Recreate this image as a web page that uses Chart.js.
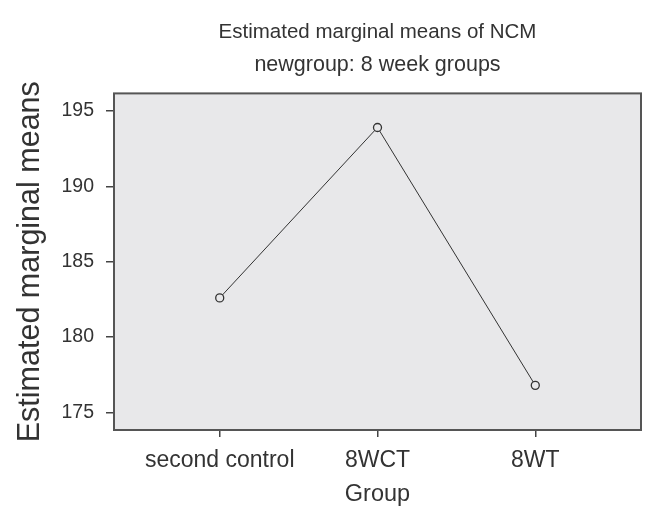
<!DOCTYPE html>
<html>
<head>
<meta charset="utf-8">
<script src="https://cdn.jsdelivr.net/npm/chart.js@4/dist/chart.umd.min.js"></script>
<style>
  html, body { margin: 0; padding: 0; background: #ffffff; }
  #wrap { width: 647px; height: 510px; position: relative; }
</style>
</head>
<body>
<div id="wrap"><canvas id="c" width="647" height="510"></canvas></div>
<script>
const titleText = "Estimated marginal means of NCM";
const subtitleText = "newgroup: 8 week groups";
const xAxisTitle = "Group";
const yAxisTitle = "Estimated marginal means";
const categories = ["second control", "8WCT", "8WT"];
const meanValues = [182.6, 193.9, 176.8];
const yTicks = [175, 180, 185, 190, 195];

const FONT = "'Liberation Sans', Arial, sans-serif";
const TEXT = "#333333";

const plotBg = {
  id: "plotBg",
  beforeDraw(chart) {
    const {ctx, chartArea: a} = chart;
    ctx.save();
    ctx.fillStyle = "#e8e8ea";
    ctx.fillRect(a.left, a.top, a.right - a.left, a.bottom - a.top);
    ctx.restore();
  },
  afterDatasetsDraw(chart) {
    const {ctx, chartArea: a} = chart;
    ctx.save();
    ctx.strokeStyle = "#555555";
    ctx.lineWidth = 2;
    ctx.strokeRect(a.left, a.top, a.right - a.left, a.bottom - a.top);
    ctx.restore();
  }
};

new Chart(document.getElementById("c"), {
  type: "line",
  data: {
    datasets: [{
      data: meanValues.map((v, i) => ({x: i + 1, y: v})),
      borderColor: "#333333",
      borderWidth: 1,
      pointRadius: 4,
      pointBorderWidth: 1.3,
      pointBorderColor: "#333333",
      pointBackgroundColor: "#e8e8ea",
      tension: 0
    }]
  },
  options: {
    responsive: false,
    animation: false,
    layout: { padding: { top: 0, right: 6, left: 0, bottom: 0 } },
    plugins: {
      legend: { display: false },
      tooltip: { enabled: false },
      title: {
        display: true, text: titleText, fullSize: false, color: TEXT,
        font: { family: FONT, size: 20.5, weight: "normal", lineHeight: 1.2 },
        padding: { top: 20, bottom: 8 }
      },
      subtitle: {
        display: true, text: subtitleText, fullSize: false, color: TEXT,
        font: { family: FONT, size: 21.5, weight: "normal", lineHeight: 1.2 },
        padding: { top: 0, bottom: 15 }
      }
    },
    scales: {
      x: {
        type: "linear",
        min: 0.33, max: 3.67,
        afterBuildTicks(s) { s.ticks = categories.map((c, i) => ({value: i + 1})); },
        afterFit(s) { s.height = 80; },
        border: { display: false },
        grid: { drawOnChartArea: false, drawTicks: true, tickLength: 7, color: "#444444", lineWidth: 1.5 },
        ticks: {
          color: TEXT, padding: 10, maxRotation: 0, autoSkip: false,
          font: { family: FONT, size: 23 },
          callback: (v) => categories[Math.round(v) - 1] || ""
        },
        title: {
          display: true, text: xAxisTitle, color: TEXT,
          font: { family: FONT, size: 23.5 },
          padding: { top: 0, bottom: 1 }
        }
      },
      y: {
        min: 173.84, max: 196.16,
        afterBuildTicks(s) { s.ticks = yTicks.map(v => ({value: v})); },
        afterFit(s) { s.width = 114; },
        border: { display: false },
        grid: { drawOnChartArea: false, drawTicks: true, tickLength: 8, color: "#444444", lineWidth: 1.5 },
        ticks: {
          color: TEXT, padding: 12,
          font: { family: FONT, size: 19.5 }
        },
        title: {
          display: true, text: yAxisTitle, color: TEXT,
          font: { family: FONT, size: 30.5 },
          padding: { top: 12, bottom: 0 }
        }
      }
    }
  },
  plugins: [plotBg]
});
</script>
</body>
</html>
